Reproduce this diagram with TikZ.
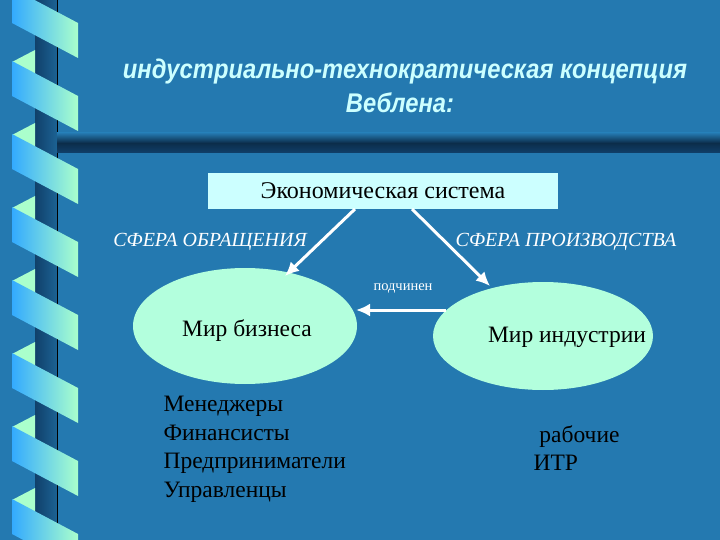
\documentclass[tikz,border=0pt]{standalone}
\usepackage{fontspec}
\usetikzlibrary{arrows.meta,shapes.geometric}
\setmainfont{Liberation Serif}
\newfontfamily\titlefont{Liberation Sans}
\begin{document}
\begin{tikzpicture}[x=1pt,y=-1pt,
  wtxt/.style={text=white,font=\itshape\fontsize{20}{23}\selectfont},
  btxt/.style={text=black,font=\fontsize{23.5}{28.5}\selectfont,align=left},
  ttl/.style={text=boxc,font=\titlefont\bfseries\itshape\fontsize{27}{30}\selectfont,xscale=0.88},
  arr/.style={draw=white,line width=3pt,-{Latex[length=14pt,width=13pt]}}]
\definecolor{bg}{HTML}{2479B0}
\definecolor{boxc}{HTML}{CCFFFF}
\definecolor{ell}{HTML}{B3FFDD}
\definecolor{rib1}{HTML}{33AAFF}
\definecolor{rib2}{HTML}{AAFFCC}
\definecolor{pole}{HTML}{10406A}
\fill[bg] (0,0) rectangle (720,540);
\useasboundingbox (0,0) rectangle (720,540);
% pole
\shade[left color=pole,right color=bg!60!pole] (35,0) rectangle (57,540);
\draw[black,line width=0.6pt] (57,0) -- (57,540);
% horizontal bar
\shade[top color=bg,bottom color=pole,middle color=pole!70!black] (57,133) rectangle (720,153);
% ribbons
\foreach \k in {0,...,7}{
  \pgfmathsetmacro\yy{\k*73}
  \fill[rib2] (12,\yy+62) -- (35,\yy+50) -- (35,\yy+75) -- cycle;
  \shade[left color=rib1,right color=rib2] (12,\yy-12) -- (78,\yy+23) -- (78,\yy+58) -- (12,\yy+23) -- cycle;
}
\node[ttl] (t1) at (405,72) {индустриально-технократическая концепция};
\node[ttl] (t2) at (400,103) {Веблена:};
\node[fill=boxc,minimum width=350pt,minimum height=36pt,font=\fontsize{24}{28}\selectfont] (sys) at (383,191) {Экономическая система};
\node[wtxt] (s1) at (210,242) {СФЕРА ОБРАЩЕНИЯ};
\node[wtxt] (s2) at (566,242) {СФЕРА ПРОИЗВОДСТВА};
\node[fill=ell,ellipse,minimum width=224pt,minimum height=116pt] (e1) at (245,326) {};
\node[fill=ell,ellipse,minimum width=220pt,minimum height=108pt] (e2) at (543,336) {};
\node[btxt] (b1) at (247,331) {Мир бизнеса};
\node[btxt] (b2) at (567,337) {Мир индустрии};
\coordinate (a1s) at (355,209); \coordinate (a1e) at (285,276);
\coordinate (a2s) at (412,209); \coordinate (a2e) at (490,286);
\coordinate (a3s) at (446,310); \coordinate (a3e) at (356,310);
\draw[arr] (a1s) -- (a1e);
\draw[arr] (a2s) -- (a2e);
\draw[arr] (a3s) -- (a3e);
\node[text=white,font=\fontsize{14.5}{16}\selectfont] (p) at (403,288) {подчинен};
\node[btxt,anchor=north west] (l1) at (160,393) {Менеджеры\\Финансисты\\Предприниматели\\Управленцы};
\node[btxt,anchor=north west] (l2) at (530,422) {\ рабочие\\ИТР};
\end{tikzpicture}
\end{document}
